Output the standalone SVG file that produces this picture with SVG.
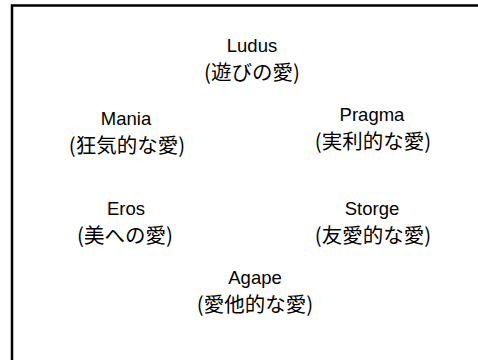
<svg xmlns="http://www.w3.org/2000/svg" width="478" height="360" viewBox="0 0 478 360">
<style>
.bg{fill:#ffffff}
.frame{fill:none;stroke:#000000;stroke-width:2.5}
text{fill:#000000;text-anchor:middle}
.en{font-family:"Liberation Sans","Noto Sans CJK JP",sans-serif;font-size:18.5px}
.jp{font-family:"Noto Sans CJK JP","Liberation Sans",sans-serif;font-size:20.5px}
</style>
<rect class="bg" x="0" y="0" width="478" height="360"/>
<rect class="frame" x="12" y="5.5" width="480" height="370"/>
<g id="connectors"></g>
<g id="ludus"><text class="en" x="252" y="52">Ludus</text><text class="jp" x="252" y="80">(遊びの愛)</text></g>
<g id="mania"><text class="en" x="126" y="125">Mania</text><text class="jp" x="127" y="153">(狂気的な愛)</text></g>
<g id="pragma"><text class="en" x="372" y="121">Pragma</text><text class="jp" x="373" y="149">(実利的な愛)</text></g>
<g id="eros"><text class="en" x="126" y="215">Eros</text><text class="jp" x="125" y="243">(美への愛)</text></g>
<g id="storge"><text class="en" x="372" y="215">Storge</text><text class="jp" x="373" y="243">(友愛的な愛)</text></g>
<g id="agape"><text class="en" x="255" y="284">Agape</text><text class="jp" x="255" y="312">(愛他的な愛)</text></g>
</svg>
